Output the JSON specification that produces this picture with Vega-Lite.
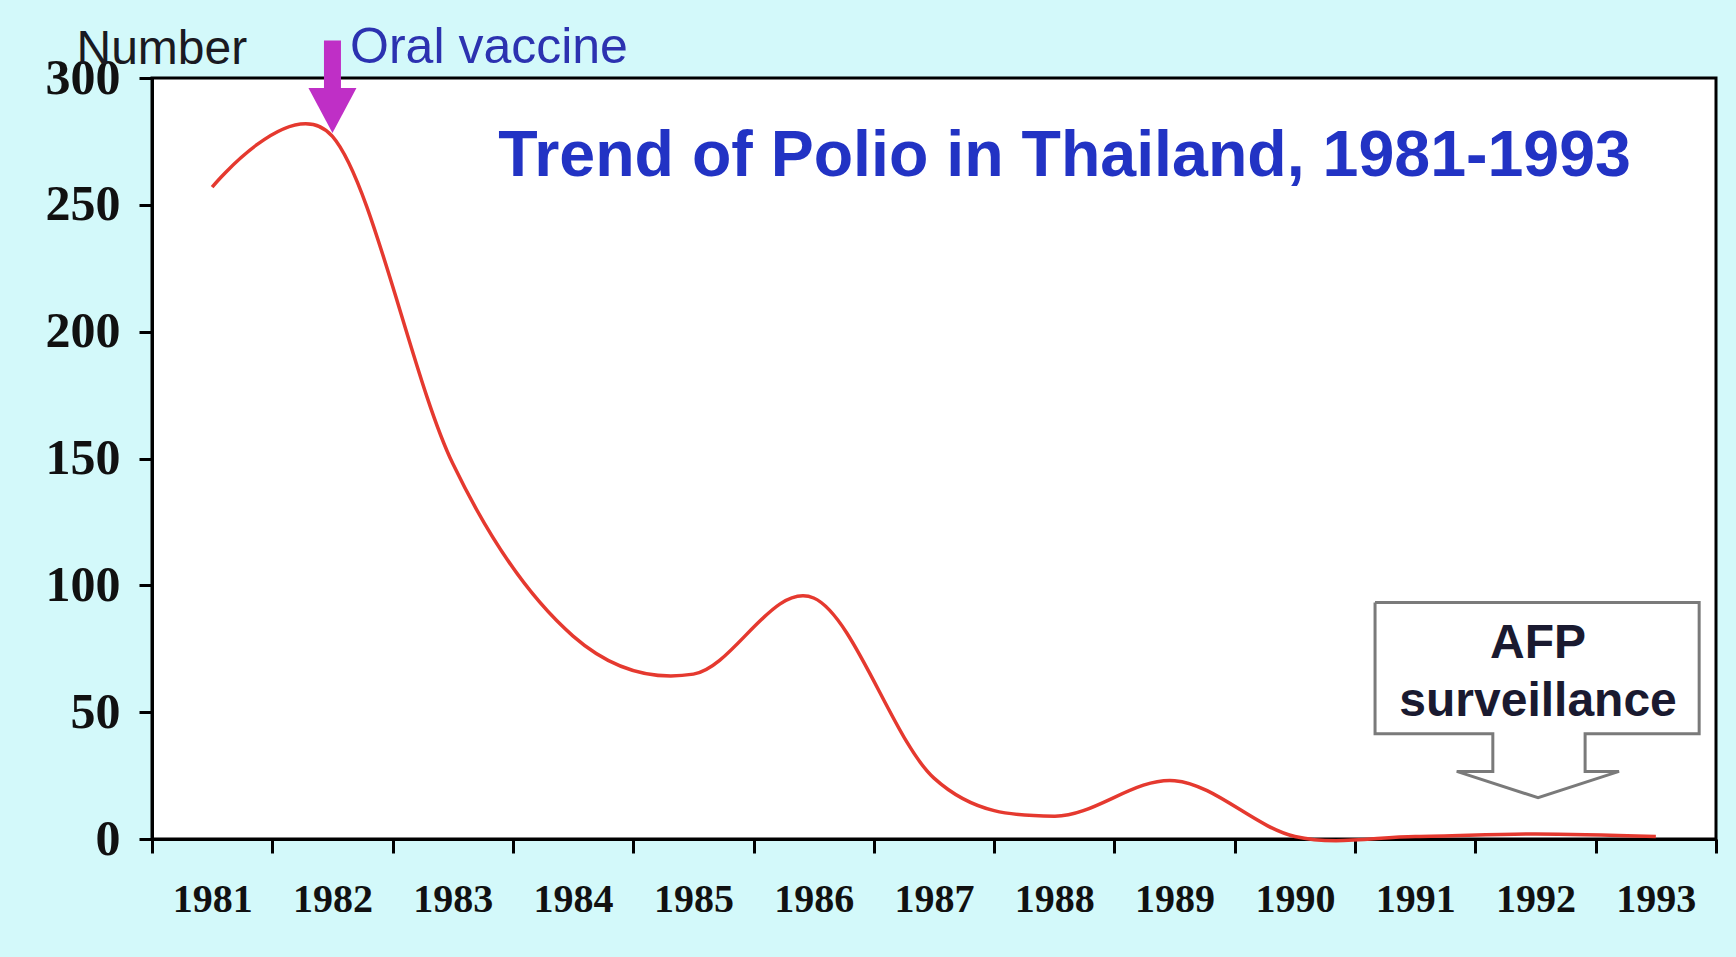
{
  "$schema": "https://vega.github.io/schema/vega-lite/v6.json",
  "autosize": "none",
  "width": 1564,
  "height": 761,
  "padding": {"left": 152, "top": 78, "right": 20, "bottom": 118},
  "background": "#d3f9fa",
  "view": {"fill": "white", "stroke": "black", "strokeWidth": 3},
  "datasets": {
    "polio": [
      {"year": 1981, "cases": 257},
      {"year": 1982, "cases": 277},
      {"year": 1983, "cases": 148},
      {"year": 1984, "cases": 80},
      {"year": 1985, "cases": 65},
      {"year": 1986, "cases": 95},
      {"year": 1987, "cases": 24},
      {"year": 1988, "cases": 9},
      {"year": 1989, "cases": 23},
      {"year": 1990, "cases": 1},
      {"year": 1991, "cases": 1},
      {"year": 1992, "cases": 2},
      {"year": 1993, "cases": 1}
    ],
    "callout": [
      {"i": 0, "x": 1990.666, "y": 93.27},
      {"i": 1, "x": 1993.36, "y": 93.27},
      {"i": 2, "x": 1993.36, "y": 41.51},
      {"i": 3, "x": 1992.412, "y": 41.51},
      {"i": 4, "x": 1992.412, "y": 26.65},
      {"i": 5, "x": 1992.694, "y": 26.65},
      {"i": 6, "x": 1992.021, "y": 16.28},
      {"i": 7, "x": 1991.345, "y": 26.65},
      {"i": 8, "x": 1991.645, "y": 26.65},
      {"i": 9, "x": 1991.645, "y": 41.51},
      {"i": 10, "x": 1990.666, "y": 41.51},
      {"i": 11, "x": 1990.666, "y": 93.27}
    ],
    "vaccine": [{"x": 1982, "y": 314.8, "y2": 293, "head": 287.2}],
    "notes": [
      {"x": 1982.146, "y": 305.9, "text": "Oral vaccine", "kind": "vaccine"},
      {"x": 1983.379, "y": 261.5, "text": "Trend of Polio in Thailand, 1981-1993", "kind": "title"},
      {"x": 1992.021, "y": 71.4, "text": "AFP", "kind": "afp"},
      {"x": 1992.021, "y": 48.3, "text": "surveillance", "kind": "afp"}
    ]
  },
  "layer": [
    {
      "data": {"name": "polio"},
      "mark": {"type": "line", "color": "#e5392f", "strokeWidth": 3.5, "interpolate": "cardinal"},
      "encoding": {
        "x": {
          "field": "year",
          "type": "quantitative",
          "scale": {"domain": [1980.5, 1993.5], "nice": false, "zero": false},
          "axis": {
            "title": null,
            "values": [1980.5, 1981.5, 1982.5, 1983.5, 1984.5, 1985.5, 1986.5, 1987.5, 1988.5, 1989.5, 1990.5, 1991.5, 1992.5, 1993.5],
            "labelExpr": "datum.value > 1993 ? '' : format(datum.value + 0.5, 'd')",
            "labelOffset": 60.15,
            "labelFlush": false,
            "labelBound": false,
            "labelOverlap": false,
            "labelAlign": "center",
            "labelBaseline": "middle",
            "labelPadding": 46,
            "labelFont": "Liberation Serif",
            "labelFontWeight": "bold",
            "labelFontSize": 40,
            "labelColor": "#111111",
            "tickSize": 14,
            "tickWidth": 3,
            "tickColor": "black",
            "domainColor": "black",
            "domainWidth": 3,
            "grid": false
          }
        },
        "y": {
          "field": "cases",
          "type": "quantitative",
          "scale": {"domain": [0, 300], "nice": false},
          "axis": {
            "title": "Number",
            "titleAngle": 0,
            "titleAlign": "left",
            "titleBaseline": "alphabetic",
            "titleX": -76,
            "titleY": -15,
            "titleFont": "Liberation Sans",
            "titleFontWeight": "normal",
            "titleFontSize": 48,
            "titleColor": "#1a1a22",
            "values": [0, 50, 100, 150, 200, 250, 300],
            "labelFont": "Liberation Serif",
            "labelFontWeight": "bold",
            "labelFontSize": 50,
            "labelColor": "#111111",
            "labelPadding": 19,
            "tickSize": 13,
            "tickWidth": 3,
            "tickColor": "black",
            "domainColor": "black",
            "domainWidth": 3,
            "grid": false
          }
        }
      }
    },
    {
      "data": {"name": "callout"},
      "mark": {"type": "line", "color": "#7a7a7a", "strokeWidth": 3, "interpolate": "linear"},
      "encoding": {
        "x": {"field": "x", "type": "quantitative", "scale": {"domain": [1980.5, 1993.5], "nice": false, "zero": false}},
        "y": {"field": "y", "type": "quantitative", "scale": {"domain": [0, 300], "nice": false}},
        "order": {"field": "i", "type": "quantitative"}
      }
    },
    {
      "data": {"name": "vaccine"},
      "mark": {"type": "rule", "color": "#bf2fc6", "strokeWidth": 17},
      "encoding": {
        "x": {"field": "x", "type": "quantitative", "scale": {"domain": [1980.5, 1993.5], "nice": false, "zero": false}},
        "y": {"field": "y", "type": "quantitative", "scale": {"domain": [0, 300], "nice": false}},
        "y2": {"field": "y2"}
      }
    },
    {
      "data": {"name": "vaccine"},
      "mark": {"type": "point", "shape": "M-1,-0.94L1,-0.94L0,0.94Z", "size": 2304, "filled": true, "opacity": 1, "color": "#bf2fc6", "strokeWidth": 0},
      "encoding": {
        "x": {"field": "x", "type": "quantitative", "scale": {"domain": [1980.5, 1993.5], "nice": false, "zero": false}},
        "y": {"field": "head", "type": "quantitative", "scale": {"domain": [0, 300], "nice": false}}
      }
    },
    {
      "data": {"name": "notes"},
      "transform": [{"filter": "datum.kind === 'vaccine'"}],
      "mark": {"type": "text", "align": "left", "baseline": "alphabetic", "font": "Liberation Sans", "fontSize": 50, "color": "#2c32b0"},
      "encoding": {
        "x": {"field": "x", "type": "quantitative", "scale": {"domain": [1980.5, 1993.5], "nice": false, "zero": false}},
        "y": {"field": "y", "type": "quantitative", "scale": {"domain": [0, 300], "nice": false}},
        "text": {"field": "text"}
      }
    },
    {
      "data": {"name": "notes"},
      "transform": [{"filter": "datum.kind === 'title'"}],
      "mark": {"type": "text", "align": "left", "baseline": "alphabetic", "font": "Liberation Sans", "fontWeight": "bold", "fontSize": 64.5, "color": "#2233c4"},
      "encoding": {
        "x": {"field": "x", "type": "quantitative", "scale": {"domain": [1980.5, 1993.5], "nice": false, "zero": false}},
        "y": {"field": "y", "type": "quantitative", "scale": {"domain": [0, 300], "nice": false}},
        "text": {"field": "text"}
      }
    },
    {
      "data": {"name": "notes"},
      "transform": [{"filter": "datum.kind === 'afp'"}],
      "mark": {"type": "text", "align": "center", "baseline": "alphabetic", "font": "Liberation Sans", "fontWeight": "bold", "fontSize": 48, "color": "#1a1a30"},
      "encoding": {
        "x": {"field": "x", "type": "quantitative", "scale": {"domain": [1980.5, 1993.5], "nice": false, "zero": false}},
        "y": {"field": "y", "type": "quantitative", "scale": {"domain": [0, 300], "nice": false}},
        "text": {"field": "text"}
      }
    }
  ]
}
